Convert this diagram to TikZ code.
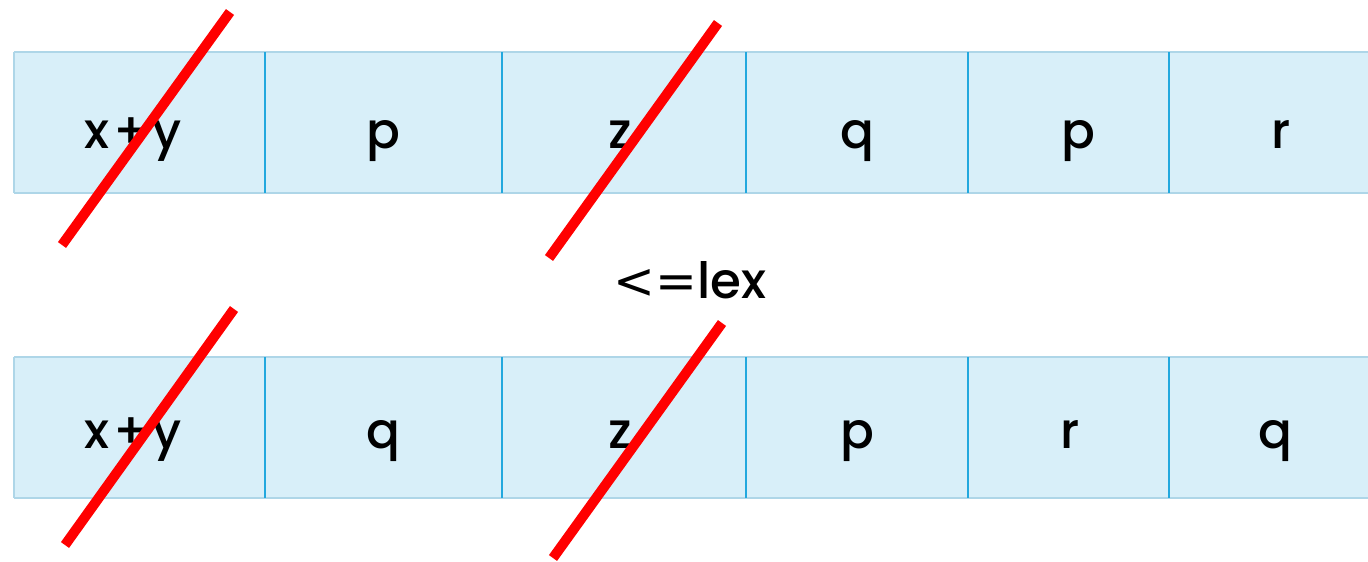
\documentclass[tikz,border=0pt]{standalone}
\usepackage{fontspec}
\setmainfont{Poppins Medium}
\newfontfamily\relfont{DejaVu Sans}
\definecolor{cellfill}{HTML}{D8EFF9}
\definecolor{celledge}{HTML}{AED6E8}
\definecolor{divider}{HTML}{22A8DE}
\definecolor{strike}{HTML}{FF0000}
\newcommand{\sumlbl}{x\hspace{4pt}+\hspace{4pt}y}
\begin{document}
\begin{tikzpicture}[x=1pt,y=-1pt,
  cell/.style={draw=none,fill=cellfill,minimum height=141pt,inner sep=0pt,anchor=north west},
  lbl/.style={font=\fontsize{50}{54}\selectfont,anchor=base,inner sep=0pt},
  rowedge/.style={draw=celledge,line width=2pt},
  sep/.style={draw=divider,line width=2pt},
  cross/.style={draw=strike,line width=10pt}]
\useasboundingbox (0,0) rectangle (1368,562);
% two rows of six cells
\foreach \r/\y in {t/52, b/357}{
  \foreach \i/\xa/\xb in {1/14/265,2/265/502,3/502/746,4/746/968,5/968/1169,6/1169/1392}{
    \node[cell,minimum width={\xb-\xa}] (\r\i) at (\xa,\y) {};
  }
}
\draw[rowedge] (14,52) -- (1392,52) (14,52) -- (14,193) (14,193) -- (1392,193);
\draw[rowedge] (14,357) -- (1392,357) (14,357) -- (14,498) (14,498) -- (1392,498);
\foreach \r in {t,b}{
  \foreach \i in {1,...,5}{
    \draw[sep] (\r\i.north east) -- (\r\i.south east);
  }
}
% cell contents
\node[lbl] (tx1) at (133,148) {\sumlbl};
\node[lbl] (tx2) at (383,148) {p};
\node[lbl] (tx3) at (620,148) {z};
\node[lbl] (tx4) at (857,148) {q};
\node[lbl] (tx5) at (1078,148) {p};
\node[lbl] (tx6) at (1281,148) {r};
\node[lbl] (bx1) at (133,448) {\sumlbl};
\node[lbl] (bx2) at (383,448) {q};
\node[lbl] (bx3) at (620,448) {z};
\node[lbl] (bx4) at (857,448) {p};
\node[lbl] (bx5) at (1070,448) {r};
\node[lbl] (bx6) at (1275,448) {q};
% relation between the rows
\node[lbl] (rel) at (690,298) {{\relfont\fontsize{50}{54}\selectfont <=}lex};
% strike-through marks
\draw[cross] (62,245) -- (230,12);
\draw[cross] (549,258) -- (718,23);
\draw[cross] (65,545) -- (234,309);
\draw[cross] (553,558) -- (722,323);
\end{tikzpicture}
\end{document}
